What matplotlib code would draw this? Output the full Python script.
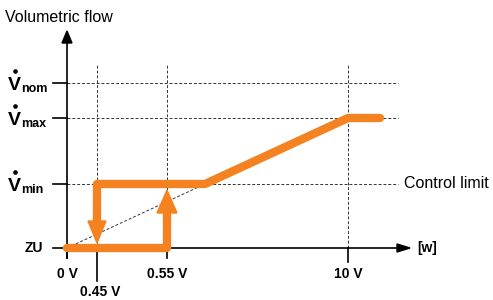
import matplotlib.pyplot as plt
from matplotlib.patches import Polygon

plt.rcParams['font.family'] = ['Liberation Sans', 'DejaVu Sans']

# 示意图坐标（横轴不按比例）
x_tick_pos = [0, 30, 100, 281]
x_tick_labels = ['0 V', '0.45 V', '0.55 V', '10 V']
y_levels = [0, 64, 130, 165]
y_labels = ['ZU', 'min', 'max', 'nom']

# 上支（下降方向）与下支（上升方向）
upper_x = [30, 30, 138, 281, 313]
upper_y = [27, 64, 64, 130, 130]
lower_x = [0, 100, 100]
lower_y = [0, 0, 35]

orange = '#f58220'
grid_kw = dict(color='#333333', lw=0.7, ls=(0, (3, 2)), clip_on=False, zorder=1)

fig = plt.figure(figsize=(4.93, 3.0), dpi=100)
ax = fig.add_axes([67 / 493, 52 / 300, 345 / 493, 220 / 300])
ax.set_xlim(0, 345)
ax.set_ylim(0, 220)
ax.axis('off')

# 虚线网格
for y in y_levels[1:]:
    ax.plot([0, 331], [y, y], **grid_kw)
for x in x_tick_pos[1:]:
    ax.plot([x, x], [0, 183], **grid_kw)
ax.plot([0, upper_x[2]], [0, upper_y[2]], **grid_kw)

# 坐标轴和箭头
ax.plot([0, 0], [-10, 206], color='k', lw=1.2, clip_on=False, zorder=2)
ax.plot([0, 331], [0, 0], color='k', lw=1.2, clip_on=False, zorder=2)
ax.add_patch(Polygon([(-5, 205), (5, 205), (0, 217)], closed=True, color='k', clip_on=False))
ax.add_patch(Polygon([(330, 4), (330, -4), (343, 0)], closed=True, color='k', clip_on=False))

tick_len = [10, 33, 10, 14]
for x, lab, tl in zip(x_tick_pos, x_tick_labels, tick_len):
    ax.plot([x, x], [0, -tl], color='k', lw=1.2, clip_on=False, zorder=2)
    ty = -44 if lab == '0.45 V' else -26
    ax.text(x + (3 if lab == '0.45 V' else 0), ty, lab, ha='center', va='center',
            fontsize=10, fontweight='bold')

for y, lab in zip(y_levels, y_labels):
    ax.plot([-14, 0], [y, y], color='k', lw=1.2, clip_on=False, zorder=2)
    if lab == 'ZU':
        ax.text(-24, y, lab, ha='right', va='center', fontsize=10, fontweight='bold')
    else:
        # V̇ 加下标
        ax.text(-52.5, y - 7, 'V', ha='center', va='baseline', fontsize=14, fontweight='bold')
        ax.plot([-52.5], [y + 12], marker='o', ms=2.3, color='k', clip_on=False)
        ax.text(-45.5, y - 9, lab, ha='left', va='baseline', fontsize=9, fontweight='bold')

# 控制曲线
ax.plot(lower_x, lower_y, color=orange, lw=6, solid_capstyle='round',
        solid_joinstyle='round', clip_on=False, zorder=3)
ax.plot(upper_x, upper_y, color=orange, lw=6, solid_capstyle='round',
        solid_joinstyle='round', clip_on=False, zorder=3)
ax.add_patch(Polygon([(upper_x[0] - 9, upper_y[0]), (upper_x[0] + 9, upper_y[0]), (upper_x[0], 5)],
                     closed=True, color=orange, clip_on=False, zorder=4))
ax.add_patch(Polygon([(lower_x[-1] - 10, lower_y[-1]), (lower_x[-1] + 10, lower_y[-1]), (lower_x[-1], 58)],
                     closed=True, color=orange, clip_on=False, zorder=4))

ax.text(-62, 230, 'Volumetric flow', ha='left', va='center', fontsize=11.5)
ax.text(350, 0, '[w]', ha='left', va='center', fontsize=10, fontweight='bold')
ax.text(337, y_levels[1], 'Control limit', ha='left', va='center', fontsize=11.5)

fig.savefig('out.png', dpi=100)
